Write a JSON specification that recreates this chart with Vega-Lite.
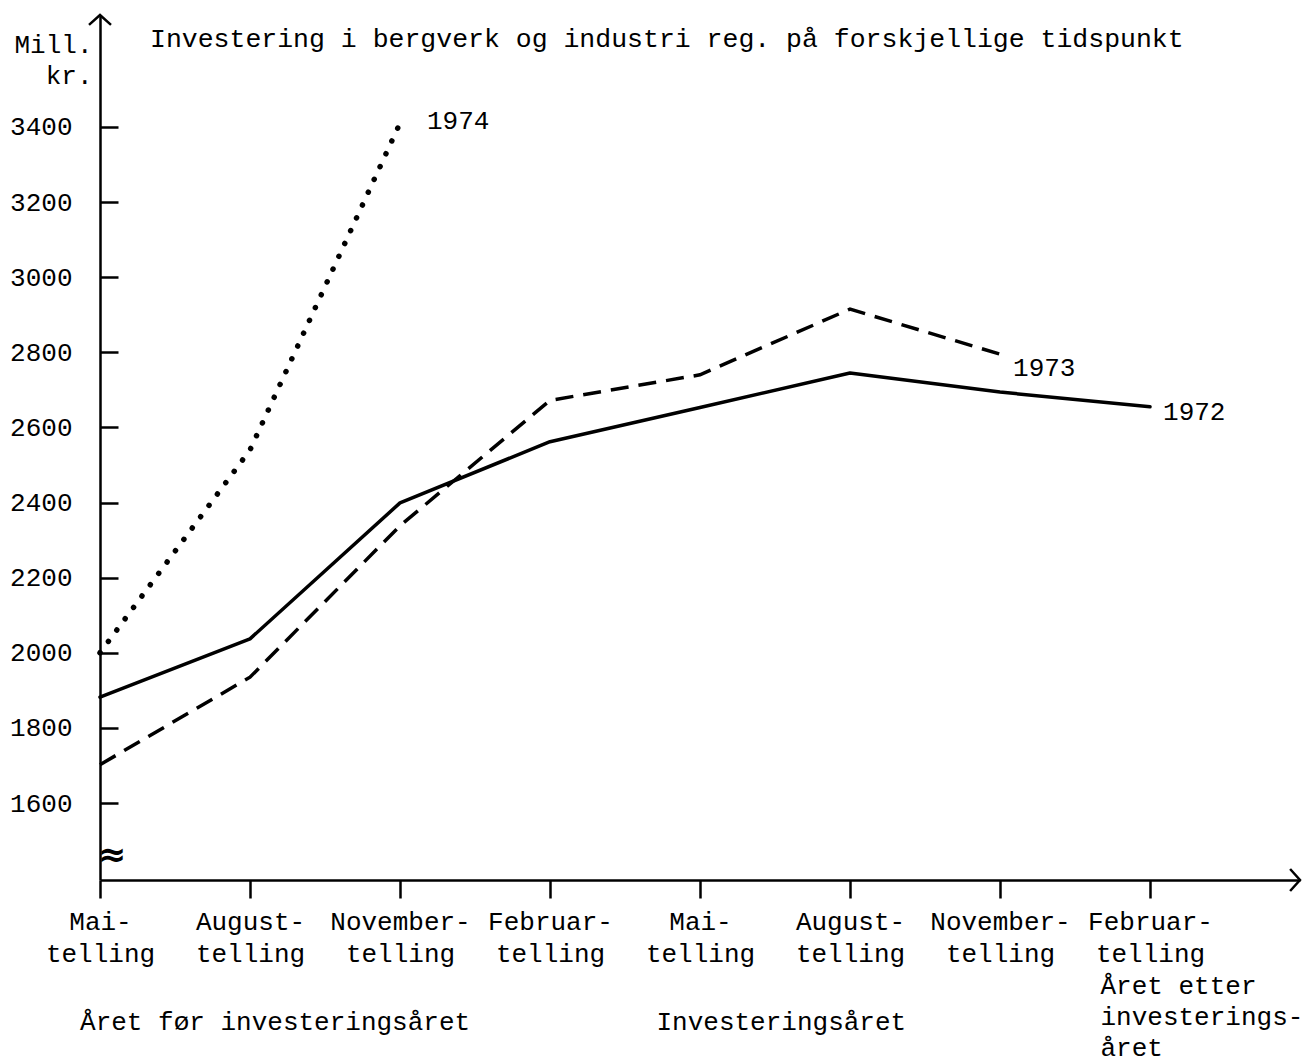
{
  "$schema": "https://vega.github.io/schema/vega-lite/v6.json",
  "width": 1200,
  "height": 865,
  "autosize": {"type": "none"},
  "padding": {"left": 100, "top": 15, "right": 9, "bottom": 183},
  "background": "white",
  "config": {
    "view": {"stroke": null},
    "font": "Liberation Mono",
    "axis": {"labelFont": "Liberation Mono", "titleFont": "Liberation Mono"}
  },
  "title": {
    "text": "Investering i bergverk og industri reg. på forskjellige tidspunkt",
    "anchor": "start",
    "frame": "group",
    "dx": 50,
    "dy": 63,
    "offset": 0,
    "fontSize": 26.5,
    "fontWeight": "normal",
    "font": "Liberation Mono",
    "color": "black",
    "baseline": "alphabetic"
  },
  "datasets": {
    "lines": [
      {"series": "1972", "pos": 0, "value": 1882},
      {"series": "1972", "pos": 1, "value": 2037},
      {"series": "1972", "pos": 2, "value": 2399},
      {"series": "1972", "pos": 3, "value": 2562},
      {"series": "1972", "pos": 4, "value": 2653},
      {"series": "1972", "pos": 5, "value": 2745},
      {"series": "1972", "pos": 6, "value": 2694},
      {"series": "1972", "pos": 7, "value": 2655},
      {"series": "1973", "pos": 0, "value": 1702},
      {"series": "1973", "pos": 1, "value": 1935},
      {"series": "1973", "pos": 2, "value": 2338},
      {"series": "1973", "pos": 3, "value": 2672},
      {"series": "1973", "pos": 4, "value": 2740},
      {"series": "1973", "pos": 5, "value": 2915},
      {"series": "1973", "pos": 6, "value": 2795},
      {"series": "1974", "pos": 0, "value": 2000},
      {"series": "1974", "pos": 1, "value": 2540},
      {"series": "1974", "pos": 2, "value": 3410}
    ],
    "notes": [
      {"pos": 2.18, "value": 3415, "text": "1974"},
      {"pos": 6.087, "value": 2758, "text": "1973"},
      {"pos": 7.087, "value": 2641, "text": "1972"},
      {"pos": -0.133, "value": 1017, "text": "Året før investeringsåret"},
      {"pos": 3.71, "value": 1017, "text": "Investeringsåret"},
      {"pos": 6.67, "value": 1112, "text": "Året etter|investerings-|året"}
    ],
    "breaks": [
      {"pos": 0.08, "value": 1458, "text": "≈"}
    ]
  },
  "layer": [
    {
      "data": {"name": "lines"},
      "transform": [{"filter": "datum.series == '1972'"}],
      "mark": {"type": "line", "color": "black", "strokeWidth": 3.5, "strokeCap": "round", "strokeJoin": "round"},
      "encoding": {
        "x": {
          "field": "pos",
          "type": "quantitative",
          "scale": {"domain": [0, 8], "nice": false, "zero": false},
          "axis": {
            "values": [0, 1, 2, 3, 4, 5, 6, 7],
            "labelExpr": "split(['Mai-|telling','August-|telling','November-|telling','Februar-|telling','Mai-|telling','August-|telling','November-|telling','Februar-|telling'][round(datum.value)], '|')",
            "title": null,
            "grid": false,
            "tickSize": 18,
            "tickWidth": 2.5,
            "tickColor": "black",
            "domainColor": "black",
            "domainWidth": 2.5,
            "labelFontSize": 26,
            "labelColor": "black",
            "labelLineHeight": 32,
            "labelBaseline": "top",
            "labelPadding": 10,
            "labelFlush": false,
            "labelOverlap": false
          }
        },
        "y": {
          "field": "value",
          "type": "quantitative",
          "scale": {"domain": [1395, 3698], "nice": false, "zero": false},
          "axis": {
            "values": [1600, 1800, 2000, 2200, 2400, 2600, 2800, 3000, 3200, 3400],
            "format": "d",
            "title": ["Mill.", "kr."],
            "titleAngle": 0,
            "titleAlign": "right",
            "titleBaseline": "alphabetic",
            "titleX": -8,
            "titleY": 37,
            "titleFontSize": 26,
            "titleFontWeight": "normal",
            "titleColor": "black",
            "titleLineHeight": 31,
            "grid": false,
            "tickSize": -18,
            "tickWidth": 2.5,
            "tickColor": "black",
            "domainColor": "black",
            "domainWidth": 2.5,
            "labelFontSize": 26,
            "labelColor": "black",
            "labelPadding": 46
          }
        }
      }
    },
    {
      "data": {"name": "lines"},
      "transform": [{"filter": "datum.series == '1973'"}],
      "mark": {"type": "line", "color": "black", "strokeWidth": 3.5, "strokeDash": [18, 10], "strokeCap": "butt"},
      "encoding": {
        "x": {"field": "pos", "type": "quantitative"},
        "y": {"field": "value", "type": "quantitative"}
      }
    },
    {
      "data": {"name": "lines"},
      "transform": [{"filter": "datum.series == '1974'"}],
      "mark": {"type": "line", "color": "black", "strokeWidth": 5.5, "strokeDash": [0.1, 14], "strokeCap": "round"},
      "encoding": {
        "x": {"field": "pos", "type": "quantitative"},
        "y": {"field": "value", "type": "quantitative"}
      }
    },
    {
      "data": {"name": "notes"},
      "mark": {"type": "text", "align": "left", "baseline": "middle", "fontSize": 26, "font": "Liberation Mono", "color": "black", "lineBreak": "|", "lineHeight": 31},
      "encoding": {
        "x": {"field": "pos", "type": "quantitative"},
        "y": {"field": "value", "type": "quantitative"},
        "text": {"field": "text", "type": "nominal"}
      }
    },
    {
      "data": {"name": "breaks"},
      "mark": {"type": "text", "align": "center", "baseline": "middle", "fontSize": 34, "fontWeight": "bold", "font": "DejaVu Sans", "color": "black"},
      "encoding": {
        "x": {"field": "pos", "type": "quantitative"},
        "y": {"field": "value", "type": "quantitative"},
        "text": {"field": "text", "type": "nominal"}
      }
    },
    {
      "data": {"values": [{"pos": 0, "value": 3698}]},
      "mark": {"type": "point", "shape": "M-1,0.9L0,0L1,0.9", "size": 484, "filled": false, "stroke": "black", "strokeWidth": 2.5, "opacity": 1},
      "encoding": {
        "x": {"field": "pos", "type": "quantitative"},
        "y": {"field": "value", "type": "quantitative"}
      }
    },
    {
      "data": {"values": [{"pos": 8, "value": 1395}]},
      "mark": {"type": "point", "shape": "M-0.9,-1L0,0L-0.9,1", "size": 484, "filled": false, "stroke": "black", "strokeWidth": 2.5, "opacity": 1},
      "encoding": {
        "x": {"field": "pos", "type": "quantitative"},
        "y": {"field": "value", "type": "quantitative"}
      }
    }
  ]
}
